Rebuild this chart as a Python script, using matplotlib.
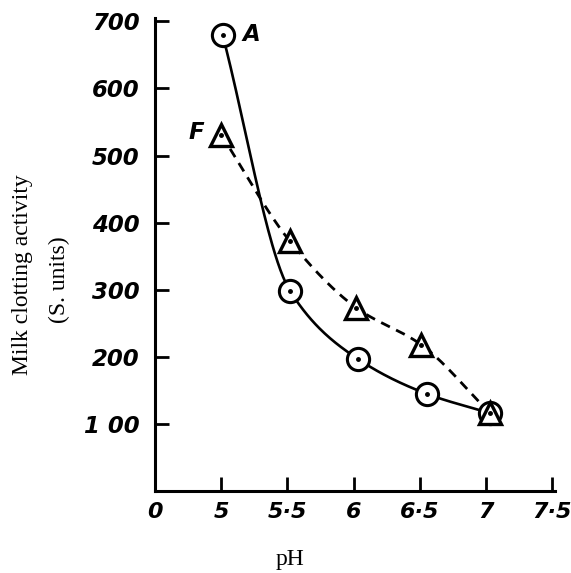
import numpy as np
import matplotlib
matplotlib.use('Agg')
import matplotlib.pyplot as plt
import matplotlib.transforms as mtransforms

# Data
ph_a = [5.01, 5.52, 6.03, 6.55, 7.03]
act_a = [680, 298, 197, 145, 116]
ph_f = [5.0, 5.52, 6.02, 6.51, 7.03]
act_f = [531, 372, 273, 218, 116]

xticks = [4.5, 5, 5.5, 6, 6.5, 7, 7.5]
xtick_labels = ['0', '5', '5·5', '6', '6·5', '7', '7·5']
yticks = [100, 200, 300, 400, 500, 600, 700]
ytick_labels = ['1 00', '200', '300', '400', '500', '600', '700']

XLIM = (4.5, 7.52)
YLIM = (0, 705)


def pchip(xs, ys, n=200):
    # monotone cubic (Fritsch-Carlson) so the drawn curve has no overshoot
    x = np.asarray(xs, float)
    y = np.asarray(ys, float)
    h = np.diff(x)
    d = np.diff(y) / h
    m = np.zeros_like(y)
    for k in range(1, len(x) - 1):
        if d[k - 1] * d[k] > 0:
            w1 = 2 * h[k] + h[k - 1]
            w2 = h[k] + 2 * h[k - 1]
            m[k] = (w1 + w2) / (w1 / d[k - 1] + w2 / d[k])
    m[0] = d[0]
    m[-1] = d[-1]
    xx = np.linspace(x[0], x[-1], n)
    idx = np.clip(np.searchsorted(x, xx) - 1, 0, len(h) - 1)
    t = (xx - x[idx]) / h[idx]
    h00 = 2 * t ** 3 - 3 * t ** 2 + 1
    h10 = t ** 3 - 2 * t ** 2 + t
    h01 = -2 * t ** 3 + 3 * t ** 2
    h11 = t ** 3 - t ** 2
    yy = h00 * y[idx] + h10 * h[idx] * m[idx] + h01 * y[idx + 1] + h11 * h[idx] * m[idx + 1]
    return xx, yy


fig = plt.figure(figsize=(5.71, 5.73), dpi=100)
ax = fig.add_axes([155 / 571, 1 - 491 / 573, (555 - 155) / 571, (491 - 18) / 573])

tick_font = dict(family='DejaVu Sans', weight='bold', style='italic', size=16.5)
label_font = dict(family='Liberation Serif', size=17)

# curve A (solid, circles)
sx, sy = pchip(ph_a, act_a)
ax.plot(sx, sy, color='black', lw=1.9, solid_capstyle='round', zorder=2)
ax.plot(ph_a, act_a, linestyle='none', marker='o', ms=16, mfc='white',
        mec='black', mew=2.2, zorder=4)
ax.plot(ph_a, act_a, linestyle='none', marker='o', ms=2.5, color='black', zorder=5)

# curve F (dashed, triangles)
sx, sy = pchip(ph_f, act_f)
ax.plot(sx, sy, color='black', lw=2.0, dashes=(3.5, 2.5), zorder=2)
ax.plot(ph_f, act_f, linestyle='none', marker='^', ms=16, mfc='white',
        mec='black', mew=2.4, zorder=6)
ax.plot(ph_f, act_f, linestyle='none', marker='o', ms=2.5, color='black', zorder=7)

ax.text(5.23, 680, 'A', ha='center', va='center', **tick_font)
ax.text(4.81, 534, 'F', ha='center', va='center', **tick_font)

ax.set_xlim(*XLIM)
ax.set_ylim(*YLIM)
ax.set_xticks(xticks)
ax.set_xticklabels(xtick_labels, fontdict=dict(tick_font, size=16))
ax.set_yticks(yticks)
ax.set_yticklabels(ytick_labels, fontdict=tick_font)

# pull the last x label in a little so it stays inside the figure
last = ax.get_xticklabels()[-1]
last.set_transform(last.get_transform() +
                   mtransforms.ScaledTranslation(-6 / 72, 0, fig.dpi_scale_trans))

for s in ['top', 'right']:
    ax.spines[s].set_visible(False)
for s in ['left', 'bottom']:
    ax.spines[s].set_linewidth(2.2)

ax.tick_params(axis='both', direction='in', length=10, width=2.0)
ax.tick_params(axis='x', pad=8)
ax.tick_params(axis='y', pad=11)

fig.text(23 / 571, 1 - 275 / 573, 'Milk clotting activity', rotation=90,
         ha='center', va='center', **label_font)
fig.text(59 / 571, 1 - 280 / 573, '(S. units)', rotation=90,
         ha='center', va='center', **label_font)
fig.text(290 / 571, 1 - 560 / 573, 'pH', ha='center', va='center', **label_font)

plt.savefig('out.png', dpi=100)
